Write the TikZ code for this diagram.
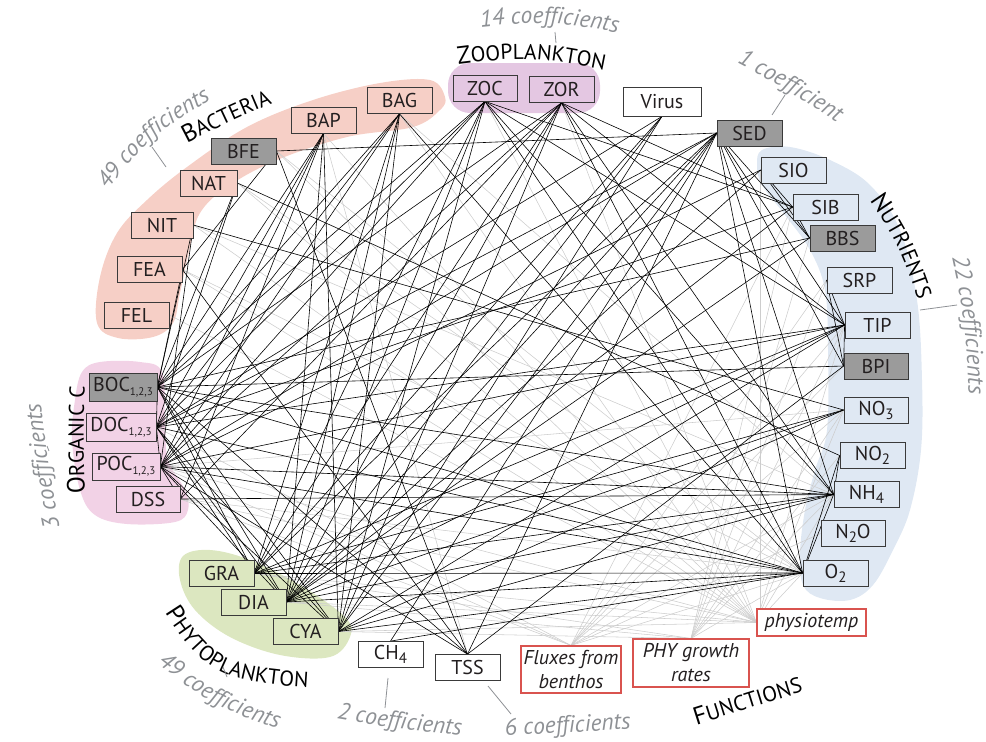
\documentclass[tikz,border=0pt]{standalone}
\usepackage{fontspec}
\setmainfont{PT Sans}
\usetikzlibrary{decorations.text}
\pgfdeclarelayer{blobs}
\pgfdeclarelayer{edges}
\pgfsetlayers{blobs,edges,main}
\definecolor{bactc}{HTML}{F6CFC6}
\definecolor{zooc}{HTML}{E4C7E2}
\definecolor{orgc}{HTML}{F2D2E6}
\definecolor{phyc}{HTML}{DCE7C0}
\definecolor{nutc}{HTML}{DFE8F3}
\definecolor{boxc}{HTML}{3A3A3A}
\definecolor{darkfill}{HTML}{9B9B9B}
\definecolor{redc}{HTML}{D9534F}
\definecolor{lightln}{HTML}{CDCDCD}
\definecolor{coefc}{HTML}{8E9195}
\definecolor{txtc}{HTML}{231F20}
\newcommand\lowsub[1]{\raisebox{-4pt}{\fontsize{11}{11}\selectfont #1}}
\newcommand\bigsub[1]{\raisebox{-4pt}{\fontsize{15}{15}\selectfont #1}}
\newcommand\coeffont{\fontsize{23.5}{23.5}\selectfont\itshape\color{coefc}}
\newcommand\grpbig{\fontsize{25}{25}\selectfont\color{black}}
\newcommand\grpsmall{\fontsize{21.5}{21.5}\selectfont\color{black}}
\begin{document}
\begin{tikzpicture}[x=1pt,y=-1pt,
  box/.style={draw=boxc, line width=0.8pt, inner sep=0pt, minimum height=26pt, minimum width=65pt, text=txtc, font=\fontsize{20}{20}\selectfont},
  fbox/.style={draw=redc, line width=1.1pt, fill=white, inner sep=0pt, text=txtc, font=\fontsize{20}{24}\selectfont\itshape, align=center},
  blk/.style={draw=black, line width=0.6pt},
  gry/.style={draw=lightln, line width=0.55pt},
  tickln/.style={draw=coefc, line width=0.8pt}]
\useasboundingbox (0,0) rectangle (986,742);
% ---------- blobs
\begin{pgfonlayer}{blobs}
\fill[bactc] plot[smooth cycle, tension=0.6] coordinates {(97,323) (100,277) (117,233) (147,200) (187,167) (247,127) (313,100) (380,83) (430,80) (445,97) (440,110) (413,127) (347,137) (277,160) (227,187) (200,213) (190,247) (180,293) (173,323) (153,337) (118,338)};
\fill[zooc, rounded corners=22pt] (448,63) rectangle (600,113);
\fill[orgc] plot[smooth cycle, tension=0.6] coordinates {(82,372) (100,362) (140,362) (162,372) (165,420) (168,460) (185,490) (188,510) (175,522) (127,524) (95,515) (80,490) (72,440) (75,400)};
\fill[phyc] plot[smooth cycle, tension=0.6] coordinates {(183,556) (210,550) (250,560) (300,585) (345,617) (350,637) (330,657) (280,655) (230,637) (195,610) (180,580)};
\fill[nutc] plot[smooth cycle, tension=0.6] coordinates {(762,150) (790,147) (830,160) (870,185) (900,230) (917,300) (922,380) (921,450) (910,510) (893,550) (873,585) (850,600) (820,598) (803,585) (800,553) (805,510) (815,470) (827,430) (828,350) (825,290) (810,250) (785,215) (762,185) (757,165)};
\end{pgfonlayer}
% ---------- nodes
\node[box, fill=bactc] (BAG) at (399.5,100.5) {BAG};
\node[box, fill=bactc] (BAP) at (323.5,120) {BAP};
\node[box, fill=darkfill] (BFE) at (243.5,151) {BFE};
\node[box, fill=bactc, minimum width=57pt] (NAT) at (208.5,183) {NAT};
\node[box, fill=bactc, minimum width=62pt] (NIT) at (162,225) {NIT};
\node[box, fill=bactc] (FEA) at (149.5,269.5) {FEA};
\node[box, fill=bactc] (FEL) at (136.5,315) {FEL};
\node[box, fill=zooc, minimum width=64pt] (ZOC) at (485,88) {ZOC};
\node[box, fill=zooc] (ZOR) at (561.5,89.5) {ZOR};
\node[box, fill=white, minimum width=78pt, minimum height=29pt] (Virus) at (662,101.5) {Virus};
\node[box, fill=darkfill] (SED) at (749.5,133) {SED};
\node[box, fill=nutc] (SIO) at (793.5,170) {SIO};
\node[box, fill=nutc] (SIB) at (825.5,207) {SIB};
\node[box, fill=darkfill] (BBS) at (842.5,238) {BBS};
\node[box, fill=nutc] (SRP) at (859.5,280) {SRP};
\node[box, fill=nutc] (TIP) at (877.5,325) {TIP};
\node[box, fill=darkfill, minimum width=64pt] (BPI) at (876,366) {BPI};
\node[box, fill=nutc, minimum width=64pt] (NO3) at (876,410) {NO\bigsub{3}};
\node[box, fill=nutc] (NO2) at (872.5,455.5) {NO\bigsub{2}};
\node[box, fill=nutc] (NH4) at (866.5,494.5) {NH\bigsub{4}};
\node[box, fill=nutc, minimum width=64pt] (N2O) at (853,533.5) {N\bigsub{2}O};
\node[box, fill=nutc] (O2) at (835.5,573) {O\bigsub{2}};
\node[fbox, minimum width=109pt, minimum height=27pt] (PT) at (811.5,622.5) {physiotemp};
\node[fbox, minimum width=116pt, minimum height=48pt] (PHY) at (691,663) {PHY growth\\rates};
\node[fbox, minimum width=100pt, minimum height=47pt] (FLX) at (571,669.5) {Fluxes from\\benthos};
\node[box, fill=white] (CH4) at (390.5,654.5) {CH\bigsub{4}};
\node[box, fill=white] (TSS) at (467.5,667.5) {TSS};
\node[box, fill=phyc] (GRA) at (221.5,573.5) {GRA};
\node[box, fill=phyc] (DIA) at (253.5,602) {DIA};
\node[box, fill=phyc] (CYA) at (305.5,631.5) {CYA};
\node[box, fill=darkfill, minimum width=68pt, minimum height=28pt] (BOC) at (123,387) {BOC\lowsub{1,2,3}};
\node[box, fill=orgc, minimum width=70pt, minimum height=28pt] (DOC) at (121,427) {DOC\lowsub{1,2,3}};
\node[box, fill=orgc, minimum width=68pt, minimum height=27pt] (POC) at (126,466.5) {POC\lowsub{1,2,3}};
\node[box, fill=orgc, minimum width=64pt] (DSS) at (148,499) {DSS};
% ---------- connectors
\begin{pgfonlayer}{edges}
\foreach \a/\b in {PT.west/BAG.south, PT.west/BAP.south, PT.west/BFE.east, PT.west/NAT.east, PT.west/NIT.east, PT.west/FEA.east, PT.west/FEL.east, PT.west/ZOC.south, PT.west/ZOR.south, PT.west/GRA.east, PT.west/DIA.east, PT.west/CYA.east, PT.west/POC.east, PT.west/DSS.east, PT.west/NO3.west, PT.west/NH4.west, PT.west/O2.west, PT.west/TIP.west,
  PHY.north/GRA.east, PHY.north/DIA.east, PHY.north/CYA.east, PHY.north/SRP.west, PHY.north/NO3.west, PHY.north/NO2.west, PHY.north/NH4.west, PHY.north/SIB.west, PHY.north/BBS.west, PHY.north/TIP.west, PHY.north/O2.west,
  FLX.north/SRP.west, FLX.north/NH4.west, FLX.north/NO3.west, FLX.north/O2.west, FLX.north/N2O.west, FLX.north/DOC.east, FLX.north/POC.east, FLX.north/TIP.west, FLX.north/DSS.east, FLX.north/BPI.west, FLX.north/SIB.west,
  BAP.south/TSS.north, BFE.east/O2.west, POC.east/NO3.west, DSS.east/O2.west, BAG.south/NH4.west, NAT.east/O2.west, NIT.east/NH4.west, FEA.east/O2.west}
  \draw[gry] (\a) -- (\b);
\draw[gry] (SIO.west) -- (SIO.west |- PT.west);
\foreach \a/\b in {BAG.south/BOC.east, BAG.south/DOC.east, BAG.south/POC.east, BAG.south/GRA.east, BAG.south/DIA.east, BAG.south/CYA.east, BAG.south/O2.west,
  BAP.south/BOC.east, BAP.south/DOC.east, BAP.south/POC.east, BAP.south/DSS.east, BAP.south/DIA.east, BAP.south/CYA.east,
  BFE.east/SED.west, BFE.east/FEA.east, BFE.east/TSS.north,
  NAT.east/NO2.west, NAT.east/BOC.east, NAT.east/DOC.east,
  NIT.east/NO3.west, NIT.east/BOC.east, NIT.east/POC.east,
  FEA.east/TSS.north, FEA.east/BOC.east,
  ZOC.south/BOC.east, ZOC.south/DOC.east, ZOC.south/POC.east, ZOC.south/GRA.east, ZOC.south/DIA.east, ZOC.south/CYA.east, ZOC.south/SIB.west, ZOC.south/TIP.west, ZOC.south/NH4.west, ZOC.south/O2.west,
  ZOR.south/BOC.east, ZOR.south/POC.east, ZOR.south/GRA.east, ZOR.south/DIA.east, ZOR.south/CYA.east, ZOR.south/SIB.west, ZOR.south/TIP.west, ZOR.south/NH4.west, ZOR.south/O2.west, ZOR.south/DSS.east,
  Virus.south/GRA.east, Virus.south/DIA.east, Virus.south/CYA.east, Virus.south/DOC.east,
  SED.west/POC.east, SED.west/DOC.east, SED.west/GRA.east, SED.west/DIA.east, SED.west/CYA.east, SED.west/BBS.west, SED.west/TIP.west, SED.west/BPI.west, SED.west/NH4.west, SED.west/O2.west,
  SIO.west/SIB.west, SIO.west/BBS.west, SIO.west/DIA.east, SIO.west/POC.east,
  SIB.west/BBS.west, SIB.west/DIA.east, SIB.west/DOC.east,
  BBS.west/DIA.east, BBS.west/BOC.east,
  SRP.west/TIP.west, SRP.west/BPI.west,
  TIP.west/GRA.east, TIP.west/DIA.east, TIP.west/CYA.east, TIP.west/DOC.east, TIP.west/POC.east, TIP.west/BPI.west,
  BPI.west/BOC.east, BPI.west/TSS.north,
  NO3.west/GRA.east, NO3.west/DIA.east, NO3.west/CYA.east,
  NO2.west/NH4.west,
  NH4.west/DSS.east, NH4.west/GRA.east, NH4.west/DIA.east, NH4.west/CYA.east, NH4.west/POC.east, NH4.west/BOC.east, NH4.west/O2.west,
  O2.west/NO2.west, O2.west/GRA.east, O2.west/DIA.east, O2.west/CYA.east, O2.west/BOC.east, O2.west/DOC.east, O2.west/POC.east, O2.west/CH4.north,
  CH4.north/SED.west, TSS.north/POC.east, TSS.north/SED.west, TSS.north/BOC.east,
  BOC.east/DOC.east, DOC.east/POC.east, POC.east/DSS.east,
  BOC.east/GRA.east, BOC.east/DIA.east, BOC.east/CYA.east, DOC.east/GRA.east, DOC.east/DIA.east, DOC.east/CYA.east, POC.east/DIA.east, POC.east/CYA.east}
  \draw[blk] (\a) -- (\b);
\end{pgfonlayer}
% ---------- group labels
\path[decorate, decoration={text along path, text align=center, text={|\grpbig|B|\grpsmall|ACTERIA}}] (165,155) .. controls (228,122) .. (295,94);
\path[decorate, decoration={text along path, text align=center, text={|\grpbig|Z|\grpsmall|OOPLANKTON}}] (430,68) .. controls (530,55) .. (632,76);
\path[decorate, decoration={text along path, text align=center, text={|\grpbig|N|\grpsmall|UTRIENTS}}] (848,170) .. controls (898,240) .. (930,335);
\path[decorate, decoration={text along path, text align=center, text={|\grpbig|O|\grpsmall|RGANIC C}}] (86,530) .. controls (83,440) .. (86,350);
\path[decorate, decoration={text along path, text align=center, text={|\grpbig|P|\grpsmall|HYTOPLANKTON}}] (138,568) .. controls (206,683) .. (360,690);
\path[decorate, decoration={text along path, text align=center, text={|\grpbig|F|\grpsmall|UNCTIONS}}] (665,735) .. controls (750,708) .. (835,682);
% ---------- coefficient labels
\path[decorate, decoration={text along path, text align=center, text={|\coeffont|49 coefficients}}] (85,222) .. controls (145,138) .. (245,80);
\path[decorate, decoration={text along path, text align=center, text={|\coeffont|14 coefficients}}] (452,30) .. controls (549,20) .. (646,38);
\path[decorate, decoration={text along path, text align=center, text={|\coeffont|1 coefficient}}] (712,50) .. controls (780,85) .. (860,138);
\path[decorate, decoration={text along path, text align=center, text={|\coeffont|22 coefficients}}] (945,225) .. controls (966,322) .. (970,428);
\path[decorate, decoration={text along path, text align=center, text={|\coeffont|3 coefficients}}] (64,550) .. controls (48,465) .. (38,380);
\path[decorate, decoration={text along path, text align=center, text={|\coeffont|49 coefficients}}] (135,645) .. controls (210,706) .. (305,738);
\path[decorate, decoration={text along path, text align=center, text={|\coeffont|2 coefficients}}] (310,714) .. controls (397,729) .. (488,738);
\path[decorate, decoration={text along path, text align=center, text={|\coeffont|6 coefficients}}] (478,737) .. controls (566,733) .. (658,727);
% ---------- ticks
\coordinate (t1a) at (152,147); \coordinate (t1b) at (166,167);
\coordinate (t2a) at (555,32);  \coordinate (t2b) at (556,43);
\coordinate (t3a) at (785,95);  \coordinate (t3b) at (772,115);
\coordinate (t4a) at (920,310); \coordinate (t4b) at (957,305);
\coordinate (t5a) at (47,446);  \coordinate (t5b) at (49,451);
\coordinate (t6a) at (223,667); \coordinate (t6b) at (227,677);
\coordinate (t7a) at (388,678); \coordinate (t7b) at (385,708);
\coordinate (t8a) at (488,686); \coordinate (t8b) at (511,714);
\foreach \i in {1,...,8} \draw[tickln] (t\i a) -- (t\i b);
\end{tikzpicture}
\end{document}
